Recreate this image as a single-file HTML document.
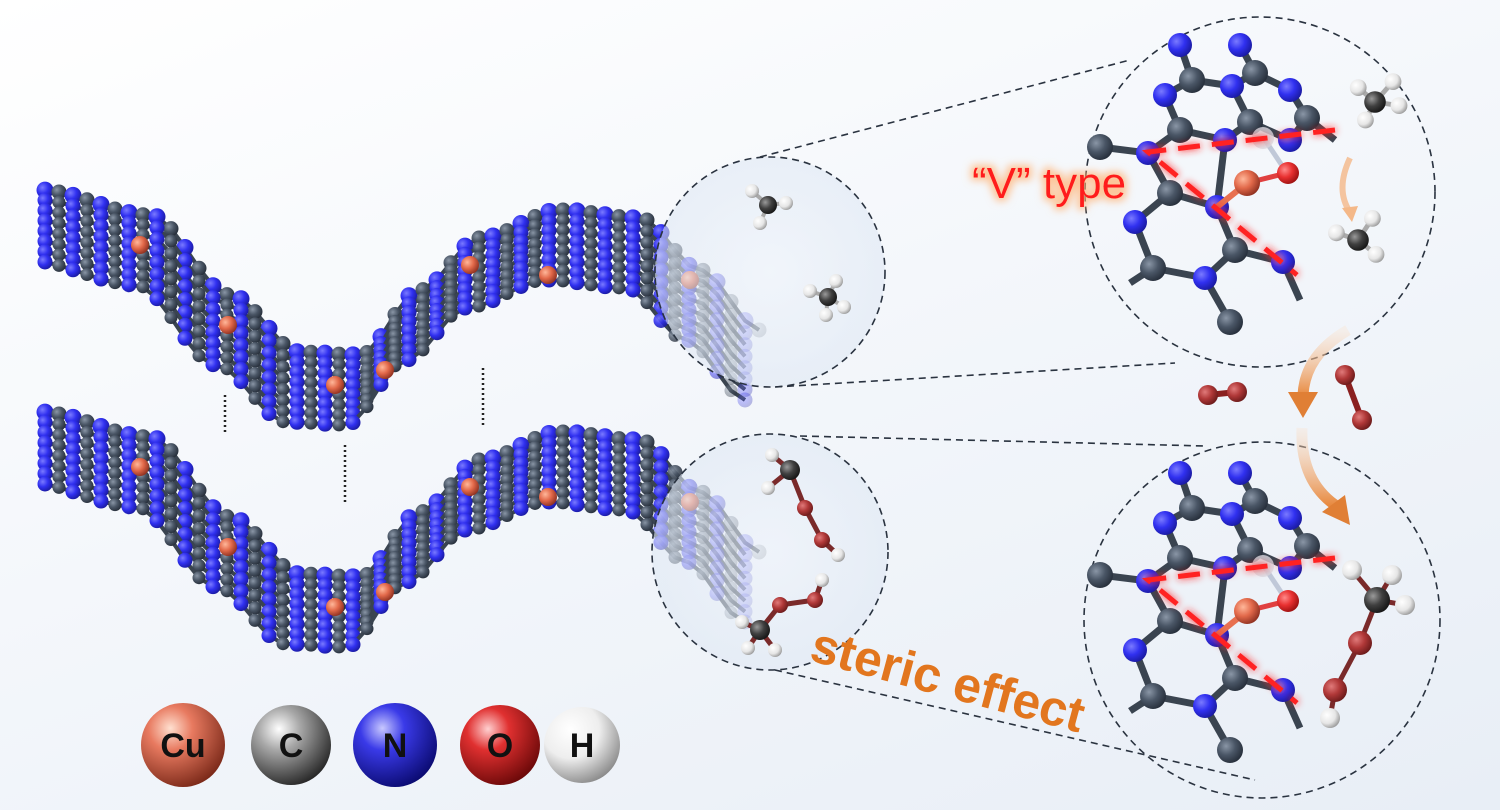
<!DOCTYPE html>
<html><head><meta charset="utf-8"><style>
html,body{margin:0;padding:0;width:1500px;height:810px;overflow:hidden}
body{background:linear-gradient(160deg,#ffffff 0%,#f4f7fb 45%,#e8eef6 100%)}
svg{position:absolute;left:0;top:0}
</style></head><body>
<svg id="s" width="1500" height="810" viewBox="0 0 1500 810" xmlns="http://www.w3.org/2000/svg">
<defs>
<radialGradient id="gN" cx="35%" cy="35%" r="70%"><stop offset="0" stop-color="#7a7aff"/><stop offset="0.5" stop-color="#3030f0"/><stop offset="1" stop-color="#1a1aa0"/></radialGradient>
<radialGradient id="gC" cx="35%" cy="35%" r="70%"><stop offset="0" stop-color="#8a96a6"/><stop offset="0.5" stop-color="#4a5666"/><stop offset="1" stop-color="#262e3a"/></radialGradient>
<radialGradient id="gCu" cx="35%" cy="35%" r="70%"><stop offset="0" stop-color="#ffb79a"/><stop offset="0.5" stop-color="#e2694a"/><stop offset="1" stop-color="#8e3020"/></radialGradient>
<radialGradient id="gO" cx="35%" cy="35%" r="70%"><stop offset="0" stop-color="#e07a7a"/><stop offset="0.5" stop-color="#b03838"/><stop offset="1" stop-color="#6a1a1a"/></radialGradient>
<radialGradient id="gOr" cx="35%" cy="35%" r="70%"><stop offset="0" stop-color="#ff8a8a"/><stop offset="0.5" stop-color="#e83030"/><stop offset="1" stop-color="#9a1010"/></radialGradient>
<radialGradient id="gH" cx="35%" cy="35%" r="70%"><stop offset="0" stop-color="#ffffff"/><stop offset="0.6" stop-color="#e6e6e6"/><stop offset="1" stop-color="#9a9a9a"/></radialGradient>
<radialGradient id="gK" cx="35%" cy="35%" r="70%"><stop offset="0" stop-color="#9a9a9a"/><stop offset="0.5" stop-color="#404040"/><stop offset="1" stop-color="#151515"/></radialGradient>
<radialGradient id="gLC" cx="35%" cy="30%" r="75%"><stop offset="0" stop-color="#ffffff"/><stop offset="0.35" stop-color="#a8a8a8"/><stop offset="1" stop-color="#262626"/></radialGradient>
<radialGradient id="gLN" cx="35%" cy="30%" r="75%"><stop offset="0" stop-color="#c8c8ff"/><stop offset="0.35" stop-color="#3a3ae8"/><stop offset="1" stop-color="#0a0a70"/></radialGradient>
<radialGradient id="gLCu" cx="35%" cy="30%" r="75%"><stop offset="0" stop-color="#ffe0d0"/><stop offset="0.35" stop-color="#e87a60"/><stop offset="1" stop-color="#7a2818"/></radialGradient>
<radialGradient id="gLO" cx="35%" cy="30%" r="75%"><stop offset="0" stop-color="#ffd0d0"/><stop offset="0.35" stop-color="#e03030"/><stop offset="1" stop-color="#6a0808"/></radialGradient>
<radialGradient id="gLH" cx="35%" cy="30%" r="75%"><stop offset="0" stop-color="#ffffff"/><stop offset="0.5" stop-color="#eeeeee"/><stop offset="1" stop-color="#8a8a8a"/></radialGradient>
<radialGradient id="circBg" cx="50%" cy="50%" r="50%"><stop offset="0" stop-color="#eef3fa" stop-opacity="0.6"/><stop offset="1" stop-color="#dfe8f4" stop-opacity="0.6"/></radialGradient>
<filter id="glow" x="-30%" y="-30%" width="160%" height="160%"><feGaussianBlur stdDeviation="4" result="b"/><feMerge><feMergeNode in="b"/><feMergeNode in="SourceGraphic"/></feMerge></filter>
<filter id="tglow" x="-20%" y="-40%" width="140%" height="180%"><feMorphology operator="dilate" radius="3" in="SourceAlpha" result="d"/><feGaussianBlur in="d" stdDeviation="4" result="b"/><feFlood flood-color="#ffb070" flood-opacity="0.7"/><feComposite in2="b" operator="in" result="g"/><feMerge><feMergeNode in="g"/><feMergeNode in="SourceGraphic"/></feMerge></filter>
<linearGradient id="arrG" x1="0" y1="0" x2="0" y2="1"><stop offset="0" stop-color="#fbe0c8" stop-opacity="0.3"/><stop offset="1" stop-color="#e88a40"/></linearGradient>
</defs>
<g id="sheets"></g>
<g stroke="#222" stroke-width="2.5" stroke-dasharray="2 3">
<line x1="225" y1="395" x2="225" y2="435"/><line x1="345" y1="445" x2="345" y2="505"/><line x1="483" y1="368" x2="483" y2="425"/>
</g>
<g fill="none" stroke="#2a3340" stroke-width="1.6" stroke-dasharray="7 5">
<circle cx="770" cy="272" r="115" fill="url(#circBg)"/>
<circle cx="770" cy="552" r="118" fill="url(#circBg)"/>
<circle cx="1260" cy="192" r="175"/>
<circle cx="1262" cy="620" r="178"/>
<line x1="760" y1="157" x2="1130" y2="60"/>
<line x1="775" y1="387" x2="1175" y2="363"/>
<line x1="800" y1="436" x2="1205" y2="446"/>
<line x1="775" y1="670" x2="1255" y2="780"/>
</g>
<g id="mol"></g>
<path d="M1350,158 Q1335,190 1350,212" stroke="#f4b888" stroke-width="6" fill="none" opacity="0.8"/>
<polygon points="1342,208 1358,206 1352,222" fill="#f4b888"/>
<path d="M1348,330 Q1305,355 1303,395" stroke="url(#arrG)" stroke-width="11" fill="none"/>
<polygon points="1288,392 1318,392 1303,418" fill="#e07f35"/>
<path d="M1302,428 Q1300,480 1335,505" stroke="url(#arrG)" stroke-width="11" fill="none"/>
<polygon points="1322,512 1345,495 1350,525" fill="#e07f35"/>
<text x="972" y="198" font-family="Liberation Sans, sans-serif" font-size="44" fill="#ff1a1a" filter="url(#tglow)">“V” type</text>
<text x="0" y="0" transform="translate(808,660) rotate(15)" font-family="Liberation Sans, sans-serif" font-size="50" fill="#e2761e" font-weight="bold">steric effect</text>
<g font-family="Liberation Sans, sans-serif" font-weight="bold" font-size="34" text-anchor="middle">
<circle cx="183" cy="745" r="42" fill="url(#gLCu)"/><text x="183" y="757" fill="#111">Cu</text>
<circle cx="291" cy="745" r="40" fill="url(#gLC)"/><text x="291" y="757" fill="#111">C</text>
<circle cx="395" cy="745" r="42" fill="url(#gLN)"/><text x="395" y="757" fill="#111">N</text>
<circle cx="500" cy="745" r="40" fill="url(#gLO)"/><text x="500" y="757" fill="#111">O</text>
<circle cx="582" cy="745" r="38" fill="url(#gLH)"/><text x="582" y="757" fill="#111">H</text>
</g>
</svg>
<script>
const NS="http://www.w3.org/2000/svg";
function el(p,t,a){const e=document.createElementNS(NS,t);for(const k in a)e.setAttribute(k,a[k]);p.appendChild(e);return e;}
const sheets=document.getElementById('sheets');
const pts=[[40,190],[150,215],[230,295],[300,352],[360,355],[420,290],[480,238],[560,210],[640,218],[700,270],[760,330]];
function cy(x){for(let i=0;i<pts.length-1;i++){const a=pts[i],b=pts[i+1];if(x<=b[0]){const t=(x-a[0])/(b[0]-a[0]);const s=t*t*(3-2*t);return a[1]+(b[1]-a[1])*s;}}return pts[pts.length-1][1];}
function sheet(dy){
  const g=el(sheets,'g',{});
  for(let r=0;r<8;r++){
    const ox=-r*2, oy=r*10;
    let path='';const atoms=[];
    for(let x=45+r*2;x<=760;x+=14){
      const y=cy(x)+oy+dy;const X=x+ox;
      path+=(path?'L':'M')+X+','+y;
      atoms.push([X,y,x]);
    }
    el(g,'path',{d:path,stroke:'#3a4450','stroke-width':4,fill:'none'});
    atoms.forEach((a,i)=>{
      let op=a[2]>660?Math.max(0.25,1-(a[2]-660)/140):1;
      const isN=i%2==0;
      const rad=(isN?7.5:6.5)+(r==0?1:0);
      el(g,'circle',{cx:a[0],cy:a[1],r:rad,fill:isN?'url(#gN)':'url(#gC)',opacity:op});
    });
  }
  [[140,245],[228,325],[335,385],[385,370],[470,265],[548,275],[690,280]].forEach(p=>{
    el(g,'circle',{cx:p[0],cy:p[1]+dy,r:9,fill:'url(#gCu)'});
  });
}
sheet(0);sheet(222);
const mol=document.getElementById('mol');
function molecule(dy){
  const g=el(mol,'g',{});
  const A={N1:[1180,45,'N'],N2:[1240,45,'N'],C1:[1192,80,'C'],C2:[1255,73,'C'],N3:[1165,95,'N'],N4:[1232,86,'N'],N5:[1290,90,'N'],
  C3:[1180,130,'C'],C4:[1250,122,'C'],C5:[1307,118,'C'],N6:[1148,153,'N'],N7:[1225,140,'N'],N8:[1290,140,'N'],
  C6:[1170,193,'C'],N9:[1217,207,'N'],N10:[1135,222,'N'],C7:[1235,250,'C'],N11:[1283,262,'N'],C8:[1153,268,'C'],N12:[1205,278,'N'],C9:[1230,322,'C'],C0:[1100,147,'C']};
  const B=[['N1','C1'],['N2','C2'],['C1','N3'],['C1','N4'],['C2','N4'],['C2','N5'],['N3','C3'],['N4','C4'],['N5','C5'],['C3','N6'],['C3','N7'],['C4','N7'],['C4','N8'],['C5','N8'],
  ['N6','C6'],['N6','C0'],['C6','N9'],['C6','N10'],['N9','C7'],['N7','N9'],['C7','N11'],['N10','C8'],['C8','N12'],['C7','N12'],['N12','C9'],['C8',[1130,283]],['N11',[1300,300]],['C5',[1335,140]]];
  B.forEach(b=>{const a=A[b[0]];const c=Array.isArray(b[1])?b[1]:A[b[1]];el(g,'line',{x1:a[0],y1:a[1]+dy,x2:c[0],y2:c[1]+dy,stroke:'#3a4450','stroke-width':7});});
  for(const k in A){const a=A[k];el(g,'circle',{cx:a[0],cy:a[1]+dy,r:a[2]=='N'?12:13,fill:a[2]=='N'?'url(#gN)':'url(#gC)'});}
  el(g,'line',{x1:1217,y1:207+dy,x2:1247,y2:183+dy,stroke:'#e87050','stroke-width':6});
  el(g,'line',{x1:1247,y1:183+dy,x2:1287,y2:173+dy,stroke:'#e04040','stroke-width':5});
  el(g,'line',{x1:1287,y1:173+dy,x2:1265,y2:140+dy,stroke:'#c0c8d8','stroke-width':5});
  el(g,'circle',{cx:1263,cy:138+dy,r:11,fill:'#d8d8e0',opacity:0.8});
  el(g,'circle',{cx:1247,cy:183+dy,r:13,fill:'url(#gCu)'});
  el(g,'circle',{cx:1288,cy:173+dy,r:11,fill:'url(#gOr)'});
  el(g,'polyline',{points:`1335,130 1148,152 1297,275`.split(' ').map(p=>{const q=p.split(',');return q[0]+','+(+q[1]+dy)}).join(' '),fill:'none',stroke:'#ff2020','stroke-width':5,'stroke-dasharray':'22 12',filter:'url(#glow)'});
}
molecule(0);molecule(428);
function atom(x,y,r,f){el(mol,'circle',{cx:x,cy:y,r:r,fill:f});}
function bond(a,b,c,w){el(mol,'line',{x1:a[0],y1:a[1],x2:b[0],y2:b[1],stroke:c,'stroke-width':w||5});}
function methyl(x,y,s,hs){hs.forEach(h=>{bond([x,y],[x+h[0]*s,y+h[1]*s],'#aaa',4*s);});atom(x,y,9*s,'url(#gK)');hs.forEach(h=>atom(x+h[0]*s,y+h[1]*s,7*s,'url(#gH)'));}
methyl(1375,102,1.2,[[-14,-12],[15,-17],[20,3],[-8,15]]);
methyl(1358,240,1.2,[[-18,-6],[12,-18],[15,12]]);
methyl(768,205,1,[[-16,-14],[18,-2],[-8,18]]);
methyl(828,297,1,[[-18,-6],[8,-16],[16,10],[-2,18]]);
bond([1208,395],[1237,392],'#8a2020',6);atom(1208,395,10,'url(#gO)');atom(1237,392,10,'url(#gO)');
bond([1345,375],[1362,420],'#8a2020',6);atom(1345,375,10,'url(#gO)');atom(1362,420,10,'url(#gO)');
function chain(list,bonds){bonds.forEach(b=>bond(list[b[0]].slice(0,2),list[b[1]].slice(0,2),'#7a2a2a',5));list.forEach(a=>atom(a[0],a[1],a[2],a[3]));}
chain([[790,470,10,'url(#gK)'],[772,455,7,'url(#gH)'],[768,488,7,'url(#gH)'],[805,508,8,'url(#gO)'],[822,540,8,'url(#gO)'],[838,555,7,'url(#gH)']],[[0,1],[0,2],[0,3],[3,4],[4,5]]);
chain([[760,630,10,'url(#gK)'],[742,622,7,'url(#gH)'],[748,648,7,'url(#gH)'],[775,650,7,'url(#gH)'],[780,605,8,'url(#gO)'],[815,600,8,'url(#gO)'],[822,580,7,'url(#gH)']],[[0,1],[0,2],[0,3],[0,4],[4,5],[5,6]]);
chain([[1377,600,13,'url(#gK)'],[1352,570,10,'url(#gH)'],[1392,575,10,'url(#gH)'],[1405,605,10,'url(#gH)'],[1360,643,12,'url(#gO)'],[1335,690,12,'url(#gO)'],[1330,718,10,'url(#gH)']],[[0,1],[0,2],[0,3],[0,4],[4,5],[5,6]]);
</script>
</body></html>
